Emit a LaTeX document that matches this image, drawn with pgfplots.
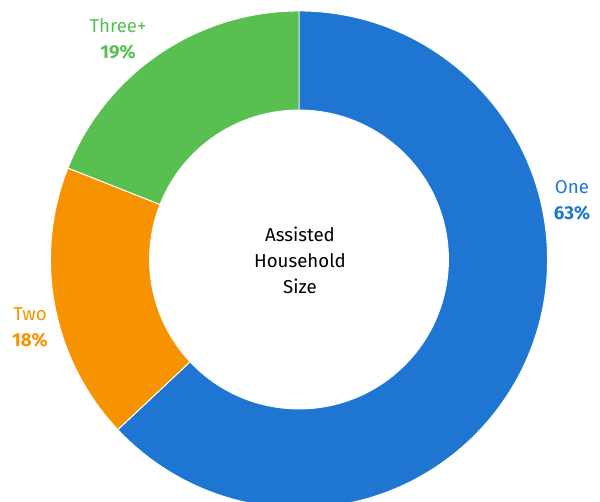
\documentclass[border=0pt]{standalone}
\usepackage{pgfplots}
\usepackage{pgfplotstable}
\usepackage{fontspec}
\setmainfont{Fira Sans}
\pgfplotsset{compat=1.18}

\definecolor{oneblue}{RGB}{31,118,210}
\definecolor{twoorange}{RGB}{247,147,0}
\definecolor{threegreen}{RGB}{88,191,80}

% household size shares (percent), clockwise from 12 o'clock
\pgfplotstableread{
label value
One 63
Two 18
Three+ 19
}\piedata

\pgfplotstablegetelem{0}{value}\of\piedata \let\vA\pgfplotsretval
\pgfplotstablegetelem{1}{value}\of\piedata \let\vB\pgfplotsretval
\pgfplotstablegetelem{2}{value}\of\piedata \let\vC\pgfplotsretval
\pgfmathsetmacro\aA{90}
\pgfmathsetmacro\aB{\aA-3.6*\vA}
\pgfmathsetmacro\aC{\aB-3.6*\vB}
\pgfmathsetmacro\aD{\aC-3.6*\vC}
\def\Ro{186.4pt}
\def\Ri{112.1pt}

\begin{document}
\begin{tikzpicture}
\begin{axis}[
    scale only axis,
    width=450pt, height=376.5pt,
    xmin=0, xmax=600, ymin=0, ymax=502,
    y dir=reverse,
    hide axis,
    clip=true,
    ]
\addplot[draw=none] coordinates {(0,0) (600,502)};
\coordinate (c) at (axis cs:299,259.5);
\fill[fill=oneblue, draw=white, line width=0.7pt]
  ([shift={(\aA:\Ro)}]c) arc[start angle=\aA, end angle=\aB, radius=\Ro]
  -- ([shift={(\aB:\Ri)}]c) arc[start angle=\aB, end angle=\aA, radius=\Ri] -- cycle;
\fill[fill=twoorange, draw=white, line width=0.7pt]
  ([shift={(\aB:\Ro)}]c) arc[start angle=\aB, end angle=\aC, radius=\Ro]
  -- ([shift={(\aC:\Ri)}]c) arc[start angle=\aC, end angle=\aB, radius=\Ri] -- cycle;
\fill[fill=threegreen, draw=white, line width=0.7pt]
  ([shift={(\aC:\Ro)}]c) arc[start angle=\aC, end angle=\aD, radius=\Ro]
  -- ([shift={(\aD:\Ri)}]c) arc[start angle=\aD, end angle=\aC, radius=\Ri] -- cycle;

\node[align=center, font=\fontsize{14}{19.5}\selectfont, text=black]
  at (axis cs:300,260) {Assisted\\Household\\Size};
\node[align=center, font=\fontsize{14}{19.5}\selectfont, text=oneblue]
  at (axis cs:572,200) {One\\\textbf{\vA\%}};
\node[align=center, font=\fontsize{14}{19.5}\selectfont, text=twoorange]
  at (axis cs:30,327) {Two\\\textbf{\vB\%}};
\node[align=center, font=\fontsize{14}{19.5}\selectfont, text=threegreen]
  at (axis cs:118,38.5) {Three+\\\textbf{\vC\%}};
\end{axis}
\pgfresetboundingbox
\path (current axis.south west) rectangle (current axis.north east);
\end{tikzpicture}
\end{document}
